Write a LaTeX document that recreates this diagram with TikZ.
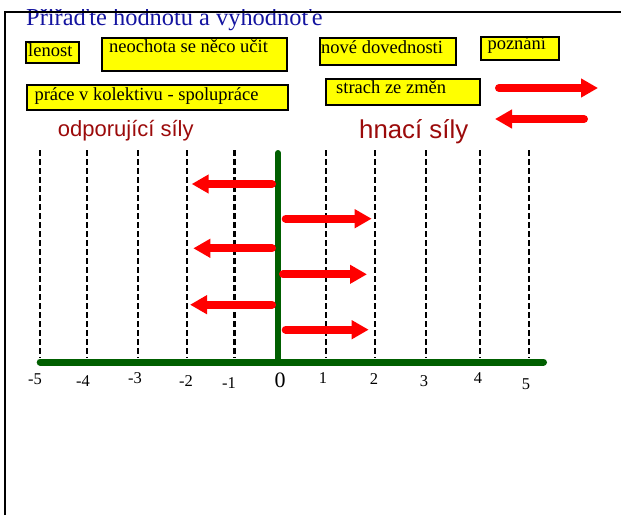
\documentclass[tikz,border=0pt]{standalone}
\usepackage{fontspec}
\setmainfont{Liberation Serif}
\newfontfamily\arialf{Liberation Sans}
\usetikzlibrary{arrows.meta}
\definecolor{titleblue}{RGB}{20,20,160}
\definecolor{forcered}{RGB}{155,10,10}
\definecolor{axisgreen}{RGB}{0,95,0}
\definecolor{boxyellow}{RGB}{255,255,0}
\begin{document}
\begin{tikzpicture}[x=1pt,y=-1pt,
  yb/.style={draw=black, line width=2pt, fill=boxyellow, inner sep=0pt},
  bt/.style={anchor=base west, inner sep=0pt, font=\fontsize{18.5}{20}\selectfont},
  vline/.style={line width=2.2pt, dash pattern=on 6.3pt off 2.7pt},
  force/.style={red, line width=8pt, line cap=round, -{Triangle[length=17pt,width=18pt]}},
  num/.style={inner sep=0pt, font=\fontsize{16.5}{18}\selectfont},
  lbl/.style={text=forcered, anchor=base west, inner sep=0pt}
]
\useasboundingbox (0,0) rectangle (621,515);
% title (top clipped as in the original)
\begin{scope}
\clip (0,9.3) rectangle (621,40);
\node[anchor=base west, inner sep=0pt, text=titleblue,
      font=\fontsize{24.4}{26}\selectfont] (title) at (26,25) {Přiřaďte hodnotu a vyhodnoťe};
\end{scope}
% frame (drawn over the title)
\draw[line width=2pt] (5,515) -- (5,12) -- (621,12);
% boxes
\node[yb, minimum width=53pt, minimum height=21pt] (b1) at (52.2,52.5) {};
\node[bt] (t1) at (28,56.7) {lenost};
\node[yb, minimum width=185pt, minimum height=33pt] (b2) at (194.5,54.5) {};
\node[bt] (t2) at (109,52.3) {neochota se něco učit};
\node[yb, minimum width=261pt, minimum height=25pt] (b3) at (157.5,97.5) {};
\node[bt] (t3) at (34.3,100) {práce v kolektivu - spolupráce};
\node[yb, minimum width=136pt, minimum height=27pt] (b4) at (388,51.5) {};
\node[bt] (t4) at (321,53.3) {nové dovednosti};
\node[yb, minimum width=78pt, minimum height=23pt] (b5) at (520,48.5) {};
\node[bt] (t5) at (487.3,49.3) {poznání};
\node[yb, minimum width=154pt, minimum height=26pt] (b6) at (403,92) {};
\node[bt] (t6) at (336,93.3) {strach ze změn};
% legend arrows
\coordinate (la1) at (499,88);  \coordinate (la2) at (598,88);
\coordinate (lb1) at (584,119); \coordinate (lb2) at (495,119);
\draw[force] (la1) -- (la2);
\draw[force] (lb1) -- (lb2);
% force labels
\node[lbl, font=\arialf\fontsize{22}{24}\selectfont] (odp) at (57.7,136.7) {odporující síly};
\node[lbl, font=\arialf\fontsize{25.8}{28}\selectfont] (hna) at (359,138) {hnací síly};
% dashed grid
\foreach \x in {39.7,87,138,187,234.5,326,375,426,480,529}
  \draw[vline] (\x,150) -- (\x,358);
% axes
\draw[axisgreen, line width=6pt, line cap=round] (278,153) -- (278,362);
\draw[axisgreen, line width=7pt, line cap=round] (40.2,362) -- (543.5,362);
% force arrows
\coordinate (l1a) at (272,184);   \coordinate (l1b) at (191.7,184);
\coordinate (r1a) at (285.7,218.7); \coordinate (r1b) at (371.7,218.7);
\coordinate (l2a) at (272,248.3); \coordinate (l2b) at (193.3,248.3);
\coordinate (r2a) at (283,274.3); \coordinate (r2b) at (367,274.3);
\coordinate (l3a) at (272,304.7); \coordinate (l3b) at (190,304.7);
\coordinate (r3a) at (285.7,329.7); \coordinate (r3b) at (368.7,329.7);
\draw[force] (l1a) -- (l1b);
\draw[force] (r1a) -- (r1b);
\draw[force] (l2a) -- (l2b);
\draw[force] (r2a) -- (r2b);
\draw[force] (l3a) -- (l3b);
\draw[force] (r3a) -- (r3b);
% numbers
\node[num] (nm5) at (35,379) {-5};
\node[num] (nm4) at (83,381) {-4};
\node[num] (nm3) at (135,378) {-3};
\node[num] (nm2) at (186,381) {-2};
\node[num] (nm1) at (229,383) {-1};
\node[inner sep=0pt, font=\fontsize{22}{24}\selectfont] (n0) at (280,380) {0};
\node[num] (n1) at (323,378) {1};
\node[num] (n2) at (374,379) {2};
\node[num] (n3) at (424,381) {3};
\node[num] (n4) at (478,378) {4};
\node[num] (n5) at (526,384) {5};
\end{tikzpicture}
\end{document}
